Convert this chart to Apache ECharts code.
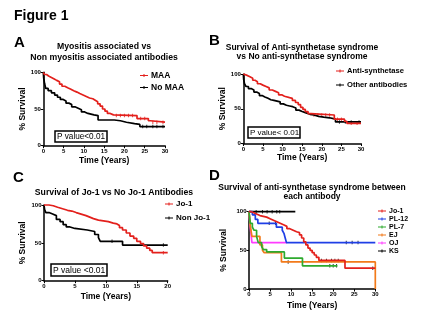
<!DOCTYPE html>
<html>
<head>
<meta charset="utf-8">
<script src="https://cdn.jsdelivr.net/npm/echarts@6/dist/echarts.min.js"></script>
<style>
  html, body { margin: 0; padding: 0; background: #fff; }
  #chart { width: 427px; height: 321px; }
</style>
</head>
<body>
<div id="chart"></div>
<script>
// ---- Panel A: myositis associated (MAA) vs non myositis associated antibodies ----
const maaTime  = [0, 0.3, 0.8, 1.3, 2.0, 2.7, 3.3, 4.0, 4.6, 5.3, 6.0, 6.8, 7.5, 8.3, 9.0, 9.8, 10.6, 11.4, 12.2, 12.8, 13.4, 14.0, 14.6, 15.2, 15.8, 16.5, 17.3, 23.1, 25.9, 26.4, 30];
const maaSurv  = [100, 97, 95, 93, 91, 89, 87, 84, 81, 79, 77, 75, 73, 71, 69, 67, 65, 64, 62, 60, 57, 54, 50, 47, 44, 42, 41, 37, 34, 32, 32];
const noMaaTime = [0, 0.1, 0.3, 0.6, 1.2, 2.0, 2.8, 3.5, 4.2, 4.9, 5.6, 6.3, 7.0, 7.8, 8.6, 9.4, 10.2, 11.0, 12.5, 13.5, 17.5, 19.0, 20.5, 22.5, 23.8, 30];
const noMaaSurv = [100, 92, 85, 78, 75, 72, 69, 66, 63, 61, 58, 56, 53, 51, 49, 46, 44, 42, 41, 35, 34, 32, 30, 29, 26, 26];
const maaCensTime = [18, 19, 20, 21, 22, 24, 25, 27, 28, 29.5];
const maaCensSurv = [41, 41, 41, 41, 41, 37, 37, 32, 32, 32];
const noMaaCensTime = [24.5, 25.5, 27, 28, 29.5];
const noMaaCensSurv = [26, 26, 26, 26, 26];

// ---- Panel B: anti-synthetase syndrome vs other antibodies ----
const asTime = [0, 0.4, 1.0, 1.7, 2.4, 3.0, 3.6, 4.3, 5.0, 5.8, 6.6, 7.4, 8.2, 9.0, 9.8, 10.5, 11.8, 12.5, 13.3, 14.0, 14.6, 15.2, 15.8, 16.5, 17.3, 23.2, 25.8, 26.4, 30];
const asSurv = [100, 98, 96, 94, 91, 89, 86, 84, 82, 80, 77, 75, 73, 70, 68, 66, 65, 62, 59, 56, 52, 49, 46, 43, 41, 35, 32, 29, 29];
const otherTime = [0, 0.1, 0.3, 0.7, 1.3, 2.0, 2.7, 3.4, 4.1, 4.8, 5.5, 6.3, 7.0, 7.8, 8.6, 9.4, 10.2, 11.0, 11.8, 12.6, 13.4, 14.2, 15.0, 16.0, 17.0, 18.0, 19.2, 20.5, 22.0, 23.5, 30];
const otherSurv = [100, 92, 86, 82, 79, 77, 74, 72, 69, 67, 65, 63, 62, 61, 60, 57, 55, 54, 53, 51, 48, 46, 44, 42, 41, 39, 38, 37, 35, 31, 31];
const asCensTime = [18, 19, 20, 21, 22, 24, 25, 27.5, 29];
const asCensSurv = [41, 41, 41, 41, 41, 35, 35, 29, 29];
const otherCensTime = [24.5, 26, 27.5, 29.5];
const otherCensSurv = [31, 31, 31, 31];

// ---- Panel C: Jo-1 vs non Jo-1 ----
const jo1Time = [0, 0.8, 1.5, 2.2, 3.0, 3.8, 4.5, 5.2, 6.0, 6.8, 7.4, 8.0, 8.8, 9.6, 10.4, 11.2, 11.8, 12.2, 12.7, 13.3, 13.9, 14.5, 15.0, 15.6, 16.1, 16.6, 17.1, 17.5, 20];
const jo1Surv = [100, 99, 97, 95, 93, 92, 90, 88, 86, 84, 82, 80, 79, 78, 76, 75, 73, 70, 67, 63, 59, 56, 52, 49, 46, 43, 40, 37, 37];
const nonJo1Time = [0, 0.1, 0.3, 0.8, 1.4, 2.0, 2.6, 3.1, 3.6, 4.2, 5.0, 7.0, 7.6, 8.2, 8.8, 9.1, 12.7, 20];
const nonJo1Surv = [100, 94, 90, 88, 86, 81, 78, 74, 71, 69, 67, 66, 65, 61, 57, 52, 47, 47];
const jo1CensTime = [19.3];
const jo1CensSurv = [37];
const nonJo1CensTime = [11, 19.3];
const nonJo1CensSurv = [52, 47];

// ---- Panel D: each anti-synthetase antibody ----
const dJo1Time = [0, 0.5, 1.0, 1.8, 2.6, 3.4, 4.2, 5.0, 5.8, 6.6, 7.4, 8.2, 9.0, 9.7, 10.5, 11.3, 12.0, 12.5, 13.0, 13.5, 14.0, 14.5, 15.0, 15.5, 16.0, 16.6, 22.8, 30];
const dJo1Surv = [100, 99, 97, 95, 94, 93, 91, 89, 87, 85, 83, 81, 78, 76, 74, 73, 70, 66, 61, 57, 53, 50, 47, 44, 41, 37, 27, 27];
const pl12Time = [0, 0.8, 1.5, 2.1, 6.5, 7.9, 8.3, 8.6, 8.9, 30];
const pl12Surv = [100, 96, 90, 85, 80, 76, 72, 66, 60, 60];
const pl7Time = [0, 0.3, 0.8, 1.2, 1.8, 2.2, 3.0, 3.4, 4.2, 8.4, 12.7, 21];
const pl7Surv = [100, 85, 80, 76, 68, 60, 55, 51, 48, 40, 30, 30];
const ejTime = [0, 0.3, 0.7, 2.6, 3.2, 3.6, 7.7, 30, 30];
const ejSurv = [100, 82, 68, 57, 50, 47, 35, 35, 0];
const ojTime = [0, 0.3, 0.7, 9];
const ojSurv = [100, 80, 60, 60];
const ksTime = [0, 11];
const ksSurv = [100, 100];
const dJo1CensTime = [17.2, 18.4, 19.6, 20.4, 21.2, 29.4];
const dJo1CensSurv = [37, 37, 37, 37, 37, 27];
const pl12CensTime = [4.8, 6.3, 23.1, 24.5, 25.9];
const pl12CensSurv = [85, 85, 60, 60, 60];
const pl7CensTime = [19.2, 20, 20.8];
const pl7CensSurv = [30, 30, 30];
const ejCensTime = [9.3];
const ejCensSurv = [35];
const ksCensTime = [1.7, 3.2, 4.3, 5.5, 6.6, 7.3];
const ksCensSurv = [100, 100, 100, 100, 100, 100];

const yTicks = [0, 50, 100];

const FONT = "'Liberation Sans', Arial, Helvetica, sans-serif";
const RED = '#e3201c', BLUE = '#1f3fe6', GREEN = '#2eaa2e', ORANGE = '#f27a1a', MAGENTA = '#ff3cff', BLACK = '#000';

const zip = (t, s) => t.map((v, i) => [v, s[i]]);

function kmLine(name, t, s, color, gi) {
  return {
    type: 'line', name, step: 'end', data: zip(t, s),
    xAxisIndex: gi, yAxisIndex: gi,
    showSymbol: false, symbol: 'none', clip: false,
    lineStyle: { color, width: 1.7 }, itemStyle: { color },
    animation: false
  };
}
function censor(name, t, s, color, gi) {
  return {
    type: 'scatter', name: name + ' (censored)', data: zip(t, s),
    xAxisIndex: gi, yAxisIndex: gi, symbol: 'rect', symbolSize: [1, 3.5],
    itemStyle: { color }, silent: true, animation: false
  };
}

const grids = [
  { left: 43.3, top: 72.3, width: 121.7, height: 73.4 },
  { left: 243.3, top: 74, width: 117.7, height: 69.5 },
  { left: 44, top: 205, width: 123.7, height: 75.7 },
  { left: 249, top: 211.7, width: 126.3, height: 77.3 }
];
const xMax = [30, 30, 20, 30];
const xNameGap = [10, 10, 11, 12];
const yNameGap = [14, 11, 11, 21];

const axisCommon = {
  axisLine: { lineStyle: { color: '#000', width: 1.5 } },
  axisTick: { length: 2.5, lineStyle: { color: '#000', width: 1 } },
  axisLabel: { fontSize: 6, fontWeight: 'bold', color: '#000', fontFamily: FONT, margin: 2.5 },
  splitLine: { show: false },
  nameTextStyle: { fontSize: 8.5, fontWeight: 'bold', color: '#000', fontFamily: FONT }
};

const xAxes = grids.map((g, i) => Object.assign({
  type: 'value', gridIndex: i, min: 0, max: xMax[i], interval: 5,
  name: 'Time (Years)', nameLocation: 'middle', nameGap: xNameGap[i]
}, axisCommon));
const yAxes = grids.map((g, i) => Object.assign({
  type: 'value', gridIndex: i, min: yTicks[0], max: yTicks[yTicks.length - 1], interval: yTicks[1] - yTicks[0],
  name: '% Survival', nameLocation: 'middle', nameGap: yNameGap[i], nameRotate: 90
}, axisCommon));

const LEGEND_ICON = 'path://M0,1.4H8V2.6H0Z M3.5,0.4H4.5V3.6H3.5Z';
function legendAt(left, top, names, fontSize, gap) {
  return {
    orient: 'vertical', left, top, data: names, icon: LEGEND_ICON,
    itemWidth: 8, itemHeight: 4, itemGap: gap, padding: 0,
    selectedMode: false,
    textStyle: { fontSize, fontWeight: 'bold', color: '#000', fontFamily: FONT, padding: [0, 0, 0, -2] }
  };
}

const series = [
  // A (first listed drawn last so it sits on top)
  kmLine('No MAA', noMaaTime, noMaaSurv, BLACK, 0),
  censor('No MAA', noMaaCensTime, noMaaCensSurv, BLACK, 0),
  kmLine('MAA', maaTime, maaSurv, RED, 0),
  censor('MAA', maaCensTime, maaCensSurv, RED, 0),
  // B
  kmLine('Other antibodies', otherTime, otherSurv, BLACK, 1),
  censor('Other antibodies', otherCensTime, otherCensSurv, BLACK, 1),
  kmLine('Anti-synthetase', asTime, asSurv, RED, 1),
  censor('Anti-synthetase', asCensTime, asCensSurv, RED, 1),
  // C
  kmLine('Non Jo-1', nonJo1Time, nonJo1Surv, BLACK, 2),
  censor('Non Jo-1', nonJo1CensTime, nonJo1CensSurv, BLACK, 2),
  kmLine('Jo-1', jo1Time, jo1Surv, RED, 2),
  censor('Jo-1', jo1CensTime, jo1CensSurv, RED, 2),
  // D
  kmLine('KS', ksTime, ksSurv, BLACK, 3),
  censor('KS', ksCensTime, ksCensSurv, BLACK, 3),
  kmLine('OJ', ojTime, ojSurv, MAGENTA, 3),
  kmLine('EJ', ejTime, ejSurv, ORANGE, 3),
  censor('EJ', ejCensTime, ejCensSurv, BLACK, 3),
  kmLine('PL-7', pl7Time, pl7Surv, GREEN, 3),
  censor('PL-7', pl7CensTime, pl7CensSurv, BLACK, 3),
  kmLine('PL-12', pl12Time, pl12Surv, BLUE, 3),
  censor('PL-12', pl12CensTime, pl12CensSurv, BLACK, 3),
  kmLine('Jo-1', dJo1Time, dJo1Surv, RED, 3),
  censor('Jo-1', dJo1CensTime, dJo1CensSurv, BLACK, 3)
];

function label(text, x, y, size, weight, align) {
  return {
    type: 'text', x, y, silent: true,
    style: {
      text, fill: '#000', textAlign: align || 'left', textVerticalAlign: 'middle',
      font: (weight || 'bold') + ' ' + size + 'px ' + FONT
    }
  };
}
function pBox(text, x, y, w, h, size) {
  return [
    { type: 'rect', silent: true, shape: { x, y, width: w, height: h },
      style: { fill: '#fff', stroke: '#000', lineWidth: 1.5 }, z: 10 },
    Object.assign(label(text, x + 2, y + h / 2 + 0.5, size, 'normal'), { z: 11 })
  ];
}

const graphics = [
  label('Figure 1', 14, 16, 14),
  label('A', 14, 43, 15),
  label('B', 209, 41, 15),
  label('C', 13, 178, 15),
  label('D', 209, 176, 15),
  label('Myositis associated vs', 104, 47, 8.7, 'bold', 'center'),
  label('Non myositis associated antibodies', 104, 58, 8.7, 'bold', 'center'),
  label('Survival of Anti-synthetase syndrome', 302, 48, 8.5, 'bold', 'center'),
  label('vs No anti-synthetase syndrome', 302, 57, 8.5, 'bold', 'center'),
  label('Survival of Jo-1 vs No Jo-1 Antibodies', 114, 192.5, 8.7, 'bold', 'center'),
  label('Survival of anti-synthetase syndrome between', 312, 187.5, 8.5, 'bold', 'center'),
  label('each antibody', 312, 197, 8.5, 'bold', 'center')
].concat(
  pBox('P value<0.01', 55, 131, 52, 11, 8.2),
  pBox('P value< 0.01', 248, 127, 52, 11, 8),
  pBox('P value <0.01', 51, 264, 56, 12, 8.5)
);

const chart = echarts.init(document.getElementById('chart'), null, { renderer: 'canvas', width: 427, height: 321 });
chart.setOption({
  animation: false,
  backgroundColor: '#fff',
  textStyle: { fontFamily: FONT },
  grid: grids,
  xAxis: xAxes,
  yAxis: yAxes,
  legend: [
    legendAt(140, 71, ['MAA', 'No MAA'], 8.5, 3),
    legendAt(336, 67, ['Anti-synthetase', 'Other antibodies'], 7.6, 6),
    legendAt(165, 200, ['Jo-1', 'Non Jo-1'], 8, 6),
    legendAt(378, 207.5, ['Jo-1', 'PL-12', 'PL-7', 'EJ', 'OJ', 'KS'], 7, 1)
  ],
  series,
  graphic: { elements: graphics }
});
</script>
</body>
</html>
